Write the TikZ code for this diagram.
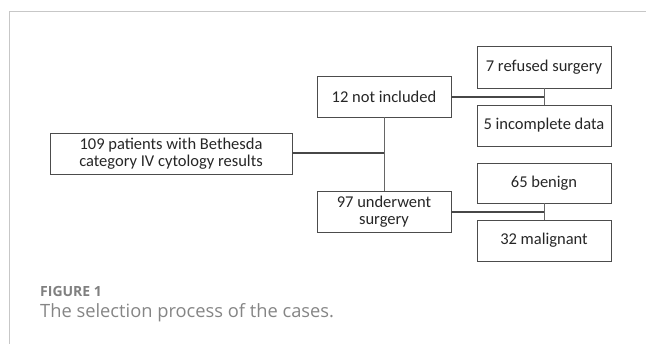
\documentclass[tikz,border=0pt]{standalone}
\usepackage{fontspec}
\setmainfont{Carlito}
\newfontfamily\capfont{Open Sans}
\begin{document}
\begin{tikzpicture}[x=1pt,y=-1pt,
  box/.style={draw=black!70,line width=0.9pt,minimum width=134pt,minimum height=41pt,inner sep=0pt,align=center,font=\fontsize{16.5}{17}\selectfont,text=black!85},
  hline/.style={draw=black!72,line width=2pt},
  vline/.style={draw=black!60,line width=1pt},
  frameline/.style={draw=black!22,line width=1.2pt}]
\useasboundingbox (0,0) rectangle (646,344);
\coordinate (ftl) at (9.5,11.5);
\coordinate (ftr) at (646,11.5);
\coordinate (fbl) at (9.5,344);
\draw[frameline] (ftr) -- (ftl) -- (fbl);
\node[box,minimum height=42pt] (r7) at (544,67) {7 refused surgery};
\node[box] (i5) at (544,125.5) {5 incomplete data};
\node[box] (n12) at (384,96.5) {12 not included};
\node[box,minimum width=242pt] (p109) at (171,153.5) {109 patients with Bethesda\\category IV cytology results};
\node[box] (u97) at (384,211.5) {97 underwent\\surgery};
\node[box,minimum height=40pt] (b65) at (544,183) {65 benign};
\node[box] (m32) at (544,240.5) {32 malignant};
\coordinate (j1) at (544,96.7);
\coordinate (j2) at (384,153.5);
\coordinate (j3) at (544,211.7);
\draw[vline] (r7.south) -- (i5.north);
\draw[vline] (n12.south) -- (u97.north);
\draw[vline] (b65.south) -- (m32.north);
\draw[hline] (n12.east |- j1) -- (j1);
\draw[hline] (p109.east) -- (j2);
\draw[hline] (u97.east |- j3) -- (j3);
\node[anchor=base west,inner sep=0pt,font=\capfont\fontsize{14}{16}\selectfont\bfseries,text=black!50] (fig) at (40,296.5) {FIGURE 1};
\node[anchor=base west,inner sep=0pt,font=\capfont\fontsize{18.3}{21}\selectfont,text=black!48] (cap) at (40,317.5) {The selection process of the cases.};
\end{tikzpicture}
\end{document}
